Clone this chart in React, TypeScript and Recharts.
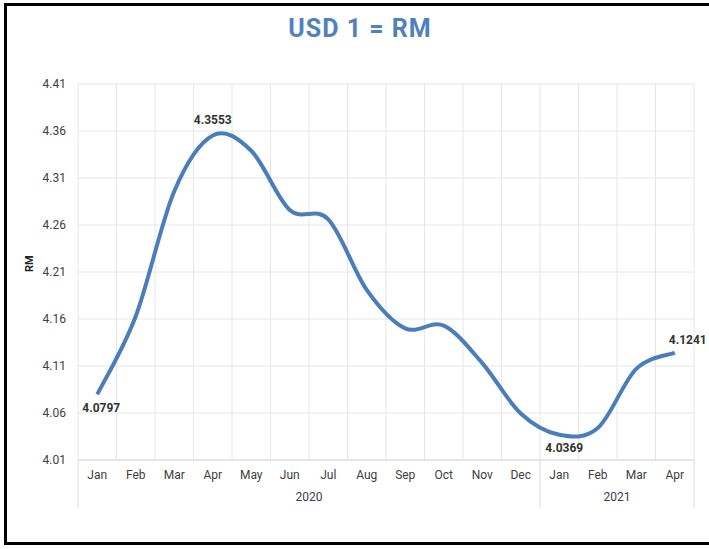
import React from "react";
import {
  LineChart,
  Line,
  XAxis,
  YAxis,
  CartesianGrid,
  LabelList,
} from "recharts";

// monthly average USD/MYR, Jan 2020 - Apr 2021
const months = ["Jan", "Feb", "Mar", "Apr", "May", "Jun", "Jul", "Aug", "Sep", "Oct", "Nov", "Dec", "Jan", "Feb", "Mar", "Apr"];
const years = ["2020", "2021"];
const monthsPerYear = [12, 4];
const rates = [4.0797, 4.163, 4.296, 4.3553, 4.339, 4.276, 4.266, 4.191, 4.150, 4.153, 4.113, 4.0595, 4.0369, 4.044, 4.107, 4.1241];
const yTicks = [4.01, 4.06, 4.11, 4.16, 4.21, 4.26, 4.31, 4.36, 4.41];
const labelledPoints = [0, 3, 12, 15];

const W = 709;
const H = 549;
const MARGIN = { top: 84, right: 15, left: 20, bottom: 41 };
const Y_AXIS_W = 58;
const MONTH_AXIS_H = 26;
const YEAR_AXIS_H = 22;
const BAND = (W - MARGIN.left - MARGIN.right - Y_AXIS_W) / months.length;

const FONT = "'Liberation Sans Narrow', Roboto, sans-serif";
const BLUE = "#4a7ebb";
const TEXT = "#404040";

// label nudges (dx, dy) relative to the point
const labelOffsets: Record<number, [number, number]> = {
  0: [4, 14],
  3: [0, -15],
  12: [5, 13],
  15: [13, -13],
};

let yearStart = 0;
const groupStarts = monthsPerYear.map((n) => {
  const s = yearStart;
  yearStart += n;
  return s;
});

const data = months.map((m, i) => ({
  key: m + "-" + i,
  month: m,
  rate: rates[i],
}));

// Excel-style smoothed line (Catmull-Rom through every point)
function excelCurve(context: any) {
  let pts: number[][] = [];
  return {
    areaStart() {},
    areaEnd() {},
    lineStart() {
      pts = [];
    },
    point(x: number, y: number) {
      pts.push([+x, +y]);
    },
    lineEnd() {
      if (!pts.length) return;
      context.moveTo(pts[0][0], pts[0][1]);
      for (let i = 0; i < pts.length - 1; i++) {
        const p0 = pts[i - 1] || pts[i];
        const p1 = pts[i];
        const p2 = pts[i + 1];
        const p3 = pts[i + 2] || pts[i + 1];
        context.bezierCurveTo(
          p1[0] + (p2[0] - p0[0]) / 6,
          p1[1] + (p2[1] - p0[1]) / 6,
          p2[0] - (p3[0] - p1[0]) / 6,
          p2[1] - (p3[1] - p1[1]) / 6,
          p2[0],
          p2[1]
        );
      }
    },
  };
}

function YearTick(props: any) {
  const { x, y, payload } = props;
  const i = payload.index;
  const g = groupStarts.indexOf(i);
  const top = y - MONTH_AXIS_H;
  return (
    <g>
      {g >= 0 && (
        <>
          <line x1={x - BAND / 2} x2={x - BAND / 2} y1={top} y2={y + YEAR_AXIS_H} stroke="#d9d9d9" />
          <text
            x={x + ((monthsPerYear[g] - 1) / 2) * BAND}
            y={y + 11}
            textAnchor="middle"
            dominantBaseline="central"
            fontSize={12}
            fontFamily={FONT}
            fill={TEXT}
          >
            {years[g]}
          </text>
        </>
      )}
      {i === months.length - 1 && (
        <line x1={x + BAND / 2} x2={x + BAND / 2} y1={top} y2={y + YEAR_AXIS_H} stroke="#d9d9d9" />
      )}
    </g>
  );
}

function PointLabel(props: any) {
  const { x, y, value, index } = props;
  if (!labelledPoints.includes(index)) return null;
  const [dx, dy] = labelOffsets[index] || [0, -12];
  return (
    <text
      x={x + dx}
      y={y + dy}
      textAnchor="middle"
      dominantBaseline="central"
      fontSize={12}
      fontWeight="bold"
      fontFamily={FONT}
      fill="#333"
    >
      {Number(value).toFixed(4)}
    </text>
  );
}

export default function App() {
  return (
    <div style={{ position: "absolute", left: 0, top: 0, width: W, height: H, overflow: "hidden", background: "#fff" }}>
      <div
        style={{
          position: "absolute",
          left: 4,
          top: 3,
          width: W + 20,
          height: H - 7,
          border: "3px solid #000",
          boxSizing: "border-box",
        }}
      />
      <div
        style={{
          position: "absolute",
          left: 0,
          top: 14,
          width: 720,
          textAlign: "center",
          fontFamily: FONT,
          fontWeight: "bold",
          fontSize: 25,
          color: "#4f81bd",
          letterSpacing: 1,
        }}
      >
        USD 1 = RM
      </div>
      <div style={{ position: "absolute", left: 0, top: 0 }}>
        <LineChart width={W} height={H} data={data} margin={MARGIN}>
          <CartesianGrid
            stroke="#e6e6e6"
            verticalCoordinatesGenerator={({ offset }: any) =>
              Array.from({ length: months.length + 1 }, (_, i) => offset.left + (i * offset.width) / months.length)
            }
          />
          <XAxis
            dataKey="key"
            scale="band"
            interval={0}
            height={MONTH_AXIS_H}
            tickLine={false}
            tickSize={0}
            tickMargin={10}
            axisLine={{ stroke: "#d9d9d9" }}
            tickFormatter={(_v: any, i: number) => months[i]}
            tick={{ fontSize: 12, fontFamily: FONT, fill: TEXT }}
          />
          <XAxis
            xAxisId="year"
            dataKey="key"
            scale="band"
            interval={0}
            height={YEAR_AXIS_H}
            tickLine={false}
            tickSize={0}
            tickMargin={0}
            axisLine={false}
            tick={<YearTick />}
          />
          <YAxis
            width={Y_AXIS_W}
            domain={[4.01, 4.41]}
            ticks={yTicks}
            interval={0}
            tickLine={false}
            axisLine={false}
            tickSize={0}
            tickMargin={12}
            tickFormatter={(v: number) => v.toFixed(2)}
            tick={{ fontSize: 12, fontFamily: FONT, fill: TEXT }}
            label={{
              value: "RM",
              angle: -90,
              position: "insideLeft",
              offset: 9,
              style: { fontSize: 11, fontFamily: FONT, fill: "#222", fontWeight: "bold" },
            }}
          />
          <Line
            dataKey="rate"
            type={excelCurve as any}
            stroke={BLUE}
            strokeWidth={4}
            dot={false}
            activeDot={false}
            isAnimationActive={false}
          >
            <LabelList dataKey="rate" content={<PointLabel />} />
          </Line>
        </LineChart>
      </div>
    </div>
  );
}
